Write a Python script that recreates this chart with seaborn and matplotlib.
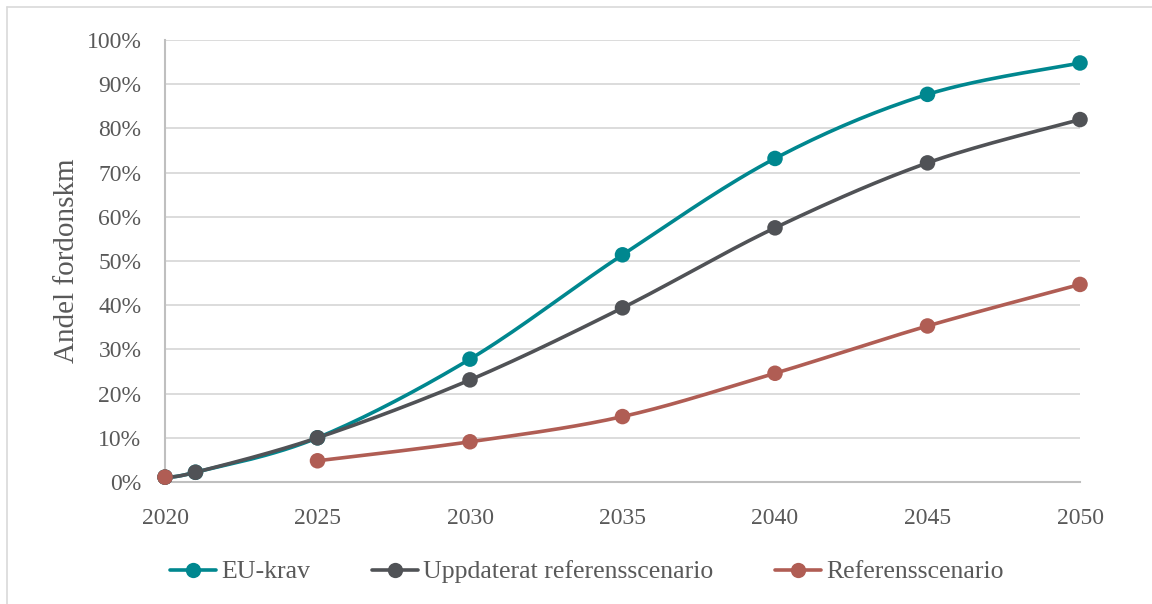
import numpy as np
import pandas as pd
import matplotlib
matplotlib.use("Agg")
import matplotlib.pyplot as plt
import seaborn as sns
from matplotlib.lines import Line2D

# ---- data ----
years = [2020, 2021, 2025, 2030, 2035, 2040, 2045, 2050]
eu_krav = [1.1, 2.2, 10.0, 27.8, 51.4, 73.2, 87.7, 94.8]
uppdaterat = [1.1, 2.2, 10.0, 23.1, 39.4, 57.5, 72.2, 82.0]
referens = [1.1, np.nan, 4.8, 9.1, 14.8, 24.6, 35.3, 44.7]

series_names = ["EU-krav", "Uppdaterat referensscenario", "Referensscenario"]
series_values = [eu_krav, uppdaterat, referens]
colors = ["#00878F", "#505256", "#B05D54"]

y_ticks = list(range(0, 101, 10))
x_ticks = [2020, 2025, 2030, 2035, 2040, 2045, 2050]
y_label = "Andel fordonskm"

sns.set_theme(style="white")
plt.rcParams["font.family"] = ["Liberation Serif", "DejaVu Serif"]
TXT = "#595959"


def smooth_segment(xs, ys, sx=30.5, sy=4.42, n=30):
    """Excel-style smoothed line (Bezier through points) for drawing only."""
    P = np.column_stack([np.asarray(xs) * sx, np.asarray(ys) * sy])
    if len(P) < 3:
        return np.asarray(xs, float), np.asarray(ys, float)
    out = []
    for i in range(len(P) - 1):
        p0 = P[i - 1] if i > 0 else P[i]
        p1, p2 = P[i], P[i + 1]
        p3 = P[i + 2] if i + 2 < len(P) else P[i + 1]
        c1 = p1 + (p2 - p0) / 6.0
        c2 = p2 - (p3 - p1) / 6.0
        t = np.linspace(0, 1, n)[:, None]
        seg = ((1 - t) ** 3) * p1 + 3 * ((1 - t) ** 2) * t * c1 + 3 * (1 - t) * t ** 2 * c2 + t ** 3 * p2
        out.append(seg if i == 0 else seg[1:])
    out = np.vstack(out)
    return out[:, 0] / sx, out[:, 1] / sy


fig = plt.figure(figsize=(11.52, 6.04), dpi=100)
ax = fig.add_axes([165 / 1152, 1 - 482 / 604, (1080 - 165) / 1152, (482 - 40) / 604])

handles = []
for name, vals, col in zip(series_names, series_values, colors):
    xs = np.array(years, float)
    ys = np.array(vals, float)
    # split into contiguous segments (gaps are not connected)
    mask = ~np.isnan(ys)
    segs, cur = [], []
    for x, y, m in zip(xs, ys, mask):
        if m:
            cur.append((x, y))
        else:
            if cur:
                segs.append(cur)
            cur = []
    if cur:
        segs.append(cur)
    for k, seg in enumerate(segs):
        sxs, sys_ = zip(*seg)
        if len(seg) > 1:
            cx, cy = smooth_segment(sxs, sys_)
            df = pd.DataFrame({"x": cx, "y": cy})
            sns.lineplot(data=df, x="x", y="y", ax=ax, color=col, lw=2.6,
                         sort=False, estimator=None, zorder=3, clip_on=False)
    dfp = pd.DataFrame({"x": xs[mask], "y": ys[mask]})
    sns.scatterplot(data=dfp, x="x", y="y", ax=ax, color=col, s=125,
                    edgecolor="none", linewidth=0, zorder=4, clip_on=False)
    handles.append(Line2D([0], [0], color=col, lw=2.6, marker="o", markersize=11,
                          markeredgewidth=0))

ax.set_xlim(2020, 2050)
ax.set_ylim(0, 100)
ax.set_xticks(x_ticks)
ax.set_xticklabels([str(x) for x in x_ticks])
ax.set_yticks(y_ticks)
ax.set_yticklabels([f"{v}%" for v in y_ticks])
ax.tick_params(axis="both", length=0, labelsize=17, labelcolor=TXT)
ax.tick_params(axis="x", pad=19)
ax.tick_params(axis="y", pad=17)
ax.grid(axis="y", color="#D9D9D9", lw=1.3)
ax.grid(axis="x", visible=False)
ax.set_axisbelow(True)
for s in ["top", "right"]:
    ax.spines[s].set_visible(False)
for s in ["left", "bottom"]:
    ax.spines[s].set_color("#BFBFBF")
    ax.spines[s].set_linewidth(1.5)
ax.set_xlabel("")
ax.set_ylabel(y_label, fontsize=21, color=TXT, labelpad=5)

fig.legend(handles, series_names, loc="center", bbox_to_anchor=(587 / 1152, 1 - 572 / 604),
           ncol=3, frameon=False, fontsize=18.5, handlelength=1.8, handletextpad=0.2,
           columnspacing=2.4, labelcolor=TXT)

# outer chart border
fig.add_artist(Line2D([7 / 1152, 1.0], [1 - 7 / 604, 1 - 7 / 604], color="#D9D9D9", lw=1.2,
                      transform=fig.transFigure))
fig.add_artist(Line2D([7 / 1152, 7 / 1152], [0, 1 - 7 / 604], color="#D9D9D9", lw=1.2,
                      transform=fig.transFigure))

fig.savefig("out.png", dpi=100)
